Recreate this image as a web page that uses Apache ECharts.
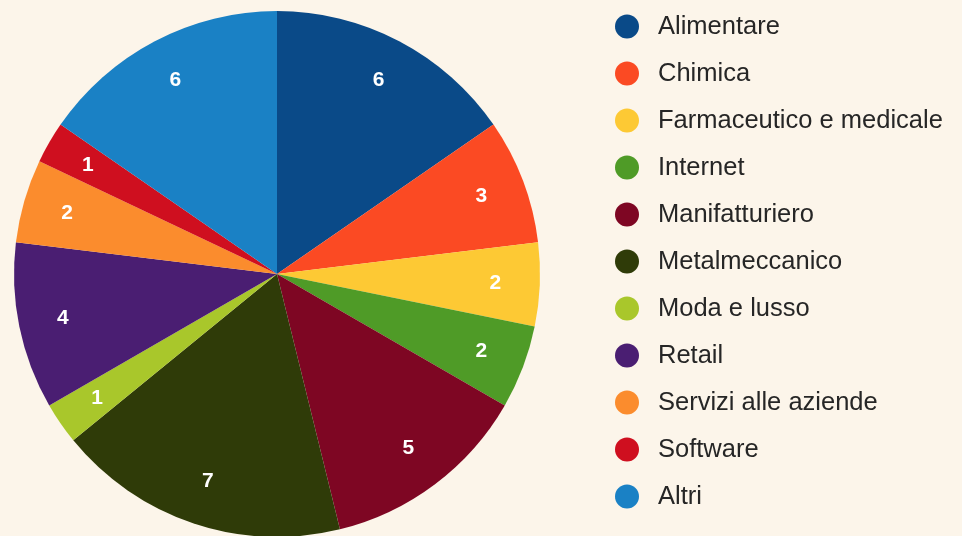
<!DOCTYPE html>
<html>
<head>
<meta charset="utf-8">
<script src="https://cdn.jsdelivr.net/npm/echarts@6/dist/echarts.min.js"></script>
<style>
  html, body { margin: 0; padding: 0; background: #fcf5ea; }
  #chart { width: 962px; height: 536px; }
</style>
</head>
<body>
<div id="chart"></div>
<script>
// settori e numero di aziende
const sectors = [
  "Alimentare",
  "Chimica",
  "Farmaceutico e medicale",
  "Internet",
  "Manifatturiero",
  "Metalmeccanico",
  "Moda e lusso",
  "Retail",
  "Servizi alle aziende",
  "Software",
  "Altri",
];
const counts = [6, 3, 2, 2, 5, 7, 1, 4, 2, 1, 6];
const colors = [
  "#0a4a88",
  "#fb4a23",
  "#fdc934",
  "#4f9b27",
  "#7e0623",
  "#2f3b08",
  "#a9c72b",
  "#4a1e72",
  "#fb8c2d",
  "#cf0f1f",
  "#1a81c5",
];

const data = sectors.map((name, i) => ({ name, value: counts[i] }));
const CENTER = [277, 274];

const chart = echarts.init(document.getElementById("chart"), null, { renderer: "canvas" });
chart.setOption({
  backgroundColor: "#fcf5ea",
  animation: false,
  color: colors,
  legend: {
    orient: "vertical",
    left: 615,
    top: 13,
    padding: 0,
    icon: "circle",
    itemWidth: 24,
    itemHeight: 24,
    itemGap: 20,
    selectedMode: false,
    textStyle: {
      color: "#262626",
      fontSize: 25.5,
      fontFamily: "Liberation Sans, Arial, sans-serif",
      lineHeight: 24,
      padding: [3, 0, 0, 14],
    },
    data: sectors,
  },
  series: [
    {
      // spicchi
      type: "pie",
      center: CENTER,
      radius: [0, 263],
      startAngle: 90,
      clockwise: true,
      silent: true,
      label: { show: false },
      labelLine: { show: false },
      data,
    },
    {
      // solo etichette, verso il bordo
      type: "pie",
      center: CENTER,
      radius: [168, 263],
      startAngle: 90,
      clockwise: true,
      silent: true,
      itemStyle: { color: "transparent" },
      label: {
        show: true,
        position: "inside",
        formatter: "{c}",
        color: "#fff",
        fontSize: 21,
        fontWeight: "bold",
        fontFamily: "Liberation Sans, Arial, sans-serif",
      },
      labelLine: { show: false },
      data,
    },
  ],
});
</script>
</body>
</html>
